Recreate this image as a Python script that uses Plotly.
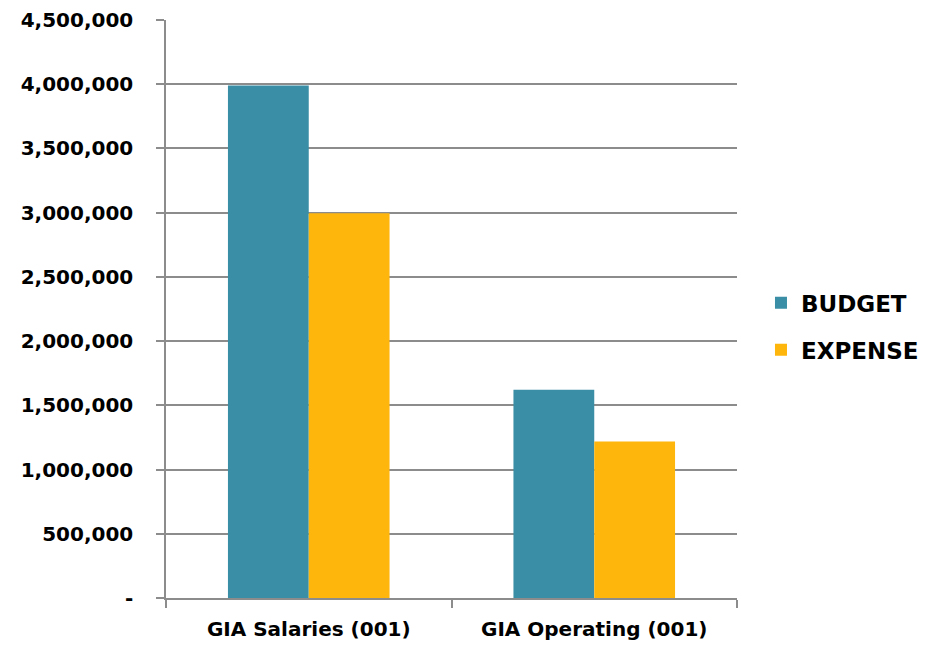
import plotly.graph_objects as go

categories = ["GIA Salaries (001)", "GIA Operating (001)"]
budget = [3990000, 1622000]
expense = [2995000, 1218000]
tick_vals = [0, 500000, 1000000, 1500000, 2000000, 2500000, 3000000, 3500000, 4000000, 4500000]
tick_text = ["-", "500,000", "1,000,000", "1,500,000", "2,000,000", "2,500,000",
             "3,000,000", "3,500,000", "4,000,000", "4,500,000"]

FONT = "DejaVu Sans"
GRID = "#8c8c8c"

fig = go.Figure()
fig.add_trace(go.Bar(name="BUDGET", x=categories, y=budget, marker_color="#3a8fa6",
                     marker_line_width=0, legendgroup="a"))
fig.add_trace(go.Bar(name="EXPENSE", x=categories, y=expense, marker_color="#ffb60c",
                     marker_line_width=0, legendgroup="b"))

fig.update_layout(
    width=938, height=646, autosize=False,
    margin=dict(l=166, r=201, t=20, b=48, autoexpand=False),
    plot_bgcolor="white", paper_bgcolor="white",
    barmode="group", bargap=0.434, bargroupgap=0,
    font=dict(family=FONT, size=20, color="black", weight="bold"),
    legend=dict(x=1.042, y=0.47, xanchor="left", yanchor="middle",
                font=dict(family=FONT, size=23, color="black", weight="bold"),
                tracegroupgap=14, itemwidth=30),
    xaxis=dict(showline=True, linecolor=GRID, linewidth=1.5, ticks="outside",
               tickson="boundaries", ticklen=8, tickcolor=GRID, tickwidth=1.5,
               ticklabelstandoff=12, automargin=False,
               tickfont=dict(family=FONT, size=20, color="black", weight="bold")),
    yaxis=dict(range=[0, 4500000], tickvals=tick_vals, ticktext=tick_text,
               showline=True, linecolor=GRID, linewidth=1.5, ticks="outside",
               ticklen=8, tickcolor=GRID, tickwidth=1.5,
               showgrid=True, gridcolor=GRID, gridwidth=1.5, zeroline=False,
               ticklabelstandoff=19, automargin=False,
               tickfont=dict(family=FONT, size=20, color="black", weight="bold")),
)

fig.write_html("out.html", config={"displayModeBar": False})
with open("out.html", "r", encoding="utf-8") as f:
    html = f.read()
html = html.replace("<body>", '<body style="margin:0;overflow:hidden">', 1)
with open("out.html", "w", encoding="utf-8") as f:
    f.write(html)
